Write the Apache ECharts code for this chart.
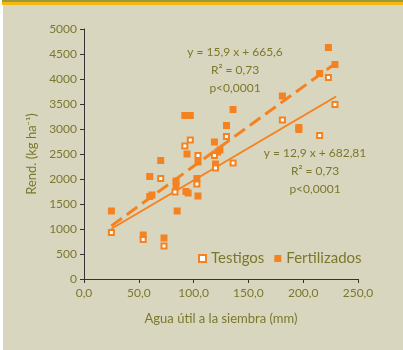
<!DOCTYPE html>
<html><head><meta charset="utf-8">
<script src="https://cdn.jsdelivr.net/npm/echarts@6/dist/echarts.min.js"></script>
<style>
html,body{margin:0;padding:0;background:#fff;}
#wrap{position:absolute;left:0;top:0;width:403px;height:350px;background:#fff;}
#bar1{position:absolute;left:2px;top:0;width:401px;height:2px;background:#9c9a3c;}
#bar2{position:absolute;left:2px;top:2px;width:401px;height:3px;background:#f7b80e;}
#main{position:absolute;left:3px;top:5px;width:400px;height:345px;background:#d9d6bf;}
</style></head>
<body><div id="wrap"><div id="bar1"></div><div id="bar2"></div><div id="main"></div></div>
<script>
const xTicks = ["0,0","50,0","100,0","150,0","200,0","250,0"];
const testigos = [[25,930],[54,790],[70,2010],[73,660],[83,1740],[92,2660],[97,2780],[103,1900],[104,2470],[119,2470],[120,2220],[130,2850],[136,2320],[181,3180],[215,2870],[223,4030],[229,3490]];
const fertilizados = [[25,1360],[54,880],[60,2050],[60,1650],[62,1680],[70,2370],[73,820],[84,1960],[84,1860],[85,1360],[92,3270],[97,3270],[94,2500],[93,1750],[95,1720],[103,2010],[104,1660],[104,2340],[119,2740],[120,2300],[122,2540],[124,2580],[130,3070],[136,3390],[181,3660],[196,3030],[196,2990],[215,4110],[223,4630],[229,4290]];
const trendTestigos = [[25,1005],[230,3650]];
const trendFertilizados = [[25,1063],[230,4322]];
const eqFert = ["y = 15,9 x + 665,6","R² = 0,73","p<0,0001"];
const eqTest = ["y = 12,9 x + 682,81","R² = 0,73","p<0,0001"];

const OR = '#f58220', TXT = '#7a782c', FONT = 'Lato';
const chart = echarts.init(document.getElementById('main'));
function eqGraphic(lines, cx, y0){
  return lines.map((t,i)=>({type:'text', x:cx, y:y0+i*18,
    style:{text:t, fill:TXT, font:'12px '+FONT, textAlign:'center', textVerticalAlign:'middle'}}));
}
chart.setOption({
  animation:false,
  backgroundColor:'#d9d6bf',
  grid:{left:81, right:45, top:24, bottom:71},
  xAxis:{type:'value', min:0, max:250, interval:50,
    name:'Agua útil a la siembra (mm)', nameLocation:'middle', nameGap:33,
    nameTextStyle:{color:TXT, fontFamily:FONT, fontSize:13},
    axisLine:{lineStyle:{color:'#333', width:1}},
    axisTick:{show:true, length:4, lineStyle:{color:'#333'}},
    axisLabel:{color:TXT, fontFamily:FONT, fontSize:12, margin:8, formatter:(v)=>xTicks[Math.round(v/50)]},
    splitLine:{show:false}},
  yAxis:{type:'value', min:0, max:5000, interval:500,
    name:'Rend. (kg ha⁻¹)', nameLocation:'middle', nameGap:44,
    nameTextStyle:{color:TXT, fontFamily:FONT, fontSize:13},
    axisLine:{show:true, lineStyle:{color:'#333', width:1}},
    axisTick:{show:true, length:4, lineStyle:{color:'#333'}},
    axisLabel:{color:TXT, fontFamily:FONT, fontSize:12, margin:7, formatter:(v)=>String(v)},
    splitLine:{show:false}},
  legend:{show:true, left:190, top:241, itemWidth:7, itemHeight:7, itemGap:10,
    textStyle:{color:TXT, fontFamily:FONT, fontSize:15},
    data:[{name:'Testigos', icon:'rect', itemStyle:{color:'#fff', borderColor:OR, borderWidth:2}},
          {name:'Fertilizados', icon:'rect', itemStyle:{color:OR, borderWidth:0}}]},
  series:[
    {name:'trendF', type:'line', data:trendFertilizados, symbol:'none', silent:true,
      lineStyle:{color:OR, width:3, type:[13,6]}, z:1},
    {name:'trendT', type:'line', data:trendTestigos, symbol:'none', silent:true,
      lineStyle:{color:OR, width:2}, z:1},
    {name:'Fertilizados', type:'scatter', data:fertilizados, symbol:'rect', symbolSize:7,
      itemStyle:{color:OR, opacity:1}, z:3},
    {name:'Testigos', type:'scatter', data:testigos, symbol:'rect', symbolSize:5,
      itemStyle:{color:'#fff', borderColor:OR, borderWidth:2, opacity:1}, z:4}
  ],
  graphic:[].concat(eqGraphic(eqFert, 232, 47), eqGraphic(eqTest, 312, 148))
});
</script></body></html>
